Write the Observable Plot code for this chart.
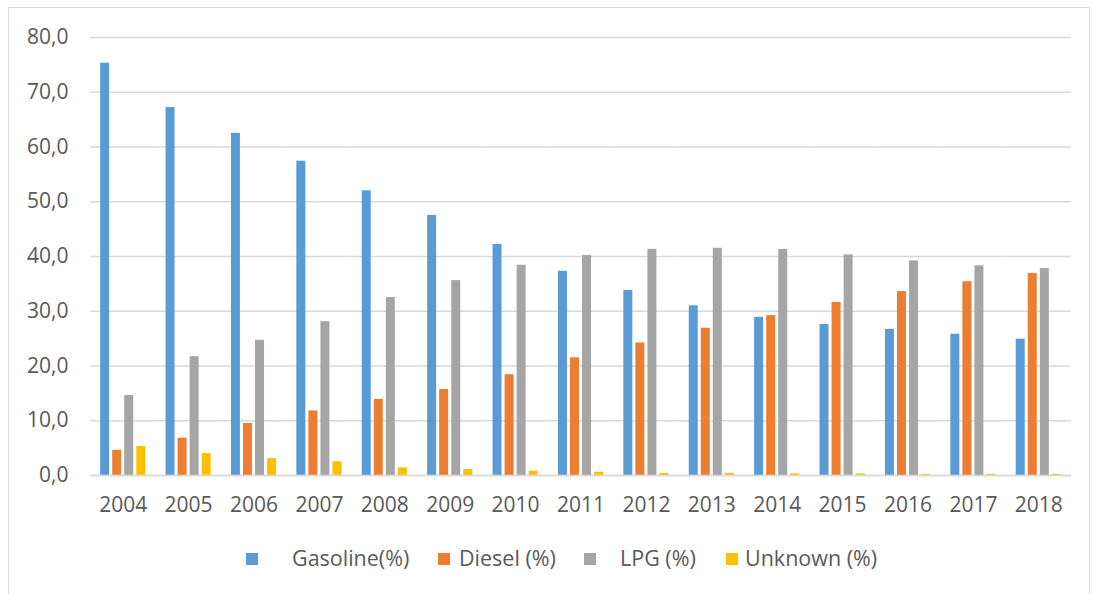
<!DOCTYPE html>
<html>
<head>
<meta charset="utf-8">
<script src="https://cdn.jsdelivr.net/npm/d3@7"></script>
<script src="https://cdn.jsdelivr.net/npm/@observablehq/plot@0.6"></script>
<style>
  html, body { margin: 0; padding: 0; background: #fff; }
  #wrap { position: relative; width: 1094px; height: 594px; overflow: hidden; font-family: "Open Sans", "Liberation Sans", sans-serif; }
  #frame { position: absolute; left: 8px; top: 7px; width: 1082px; height: 600px; border: 1.5px solid #d9d9d9; box-sizing: border-box; }
  #chart { position: absolute; left: 0; top: 0; }
  .lg { position: absolute; top: 543px; font-size: 21.5px; line-height: 30px; color: #595959; white-space: nowrap; }
  .sw { position: absolute; top: 553px; width: 12px; height: 12px; }
</style>
</head>
<body>
<div id="wrap">
  <div id="frame"></div>
  <div id="chart"></div>
  <div id="legend"></div>
</div>
<script>
const years = ["2004","2005","2006","2007","2008","2009","2010","2011","2012","2013","2014","2015","2016","2017","2018"];
const seriesNames = ["Gasoline(%)", "Diesel (%)", "LPG (%)", "Unknown (%)"];
const colors = ["#5B9BD5", "#ED7D31", "#A5A5A5", "#FFC000"];
const gasoline = [75.3, 67.2, 62.5, 57.4, 52.0, 47.5, 42.2, 37.3, 33.8, 31.0, 28.9, 27.6, 26.7, 25.8, 24.9];
const diesel   = [4.6, 6.8, 9.5, 11.8, 13.9, 15.7, 18.4, 21.5, 24.2, 26.9, 29.2, 31.6, 33.6, 35.4, 36.9];
const lpg      = [14.6, 21.7, 24.7, 28.1, 32.5, 35.6, 38.4, 40.2, 41.3, 41.5, 41.3, 40.3, 39.2, 38.3, 37.8];
const unknown  = [5.3, 4.0, 3.1, 2.5, 1.4, 1.1, 0.8, 0.6, 0.4, 0.4, 0.3, 0.3, 0.2, 0.2, 0.2];
const yTicks = [0, 10, 20, 30, 40, 50, 60, 70, 80];

const seriesValues = [gasoline, diesel, lpg, unknown];
const data = [];
years.forEach((yr, i) => {
  seriesNames.forEach((s, j) => data.push({year: yr, series: s, value: seriesValues[j][i]}));
});

const fmt = d => d.toFixed(1).replace(".", ",");
const FS = 21;

const chart = Plot.plot({
  width: 1094,
  height: 530,
  marginTop: 37,
  marginBottom: 55,
  marginLeft: 90,
  marginRight: 23,
  style: {fontFamily: "'Open Sans', 'Liberation Sans', sans-serif", fontSize: FS + "px", color: "#595959", background: "transparent"},
  fx: {domain: years, padding: 0, round: false, label: null, axis: null},
  x: {domain: seriesNames, paddingInner: 0.17, paddingOuter: 0.8, round: false, axis: null},
  y: {domain: [0, 80], label: null, axis: null},
  color: {domain: seriesNames, range: colors},
  marks: [
    Plot.gridY(yTicks, {stroke: "#d9d9d9", strokeOpacity: 1, strokeWidth: 1.5}),
    Plot.barY(data, {fx: "year", x: "series", y: "value", fill: "series", insetLeft: 0.5, insetRight: 0.5}),
    Plot.ruleY([0], {stroke: "#d9d9d9", strokeWidth: 1.5}),
    Plot.axisY(yTicks, {tickFormat: fmt, label: null, tickSize: 0, tickPadding: 22, fontSize: FS, fill: "#595959"}),
    Plot.axisFx({anchor: "bottom", label: null, tickSize: 0, tickPadding: 22, fontSize: FS, fill: "#595959"})
  ]
});
document.getElementById("chart").appendChild(chart);

const legendPos = [
  {sq: 246, tx: 292},
  {sq: 438, tx: 459},
  {sq: 584, tx: 620},
  {sq: 726, tx: 745}
];
const lg = document.getElementById("legend");
seriesNames.forEach((s, j) => {
  const sq = document.createElement("div");
  sq.className = "sw";
  sq.style.left = legendPos[j].sq + "px";
  sq.style.background = colors[j];
  lg.appendChild(sq);
  const t = document.createElement("div");
  t.className = "lg";
  t.style.left = legendPos[j].tx + "px";
  t.textContent = s;
  lg.appendChild(t);
});
</script>
</body>
</html>
